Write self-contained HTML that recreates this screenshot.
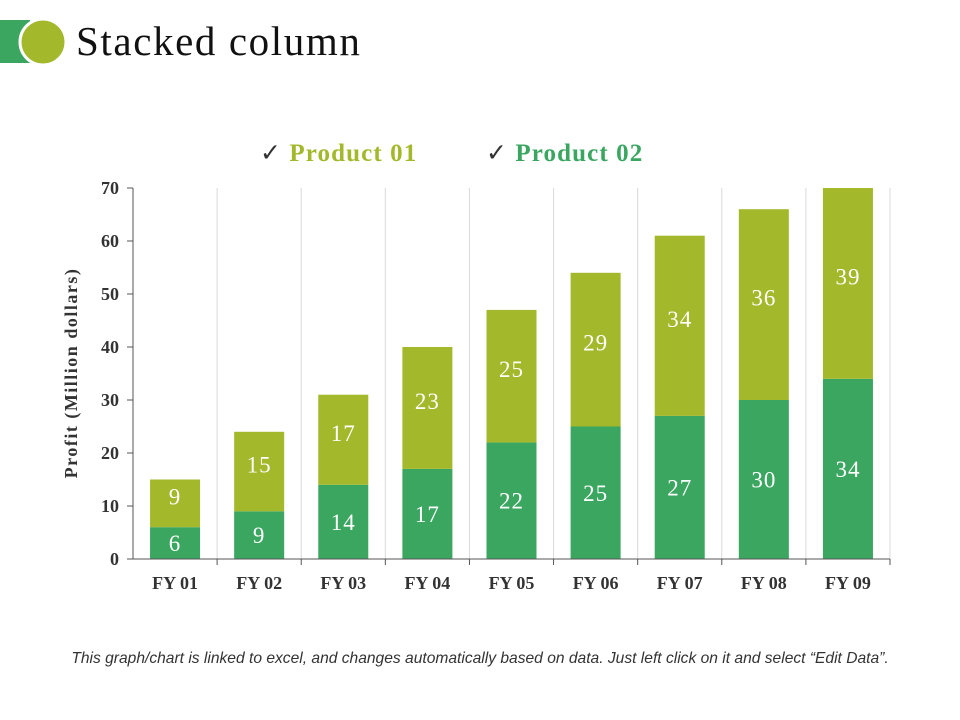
<!DOCTYPE html>
<html><head><meta charset="utf-8"><style>
body{margin:0;background:#fff;width:960px;height:720px;overflow:hidden;position:relative}
svg{position:absolute;left:0;top:0}
</style></head><body>
<svg width="960" height="720">
  <defs><clipPath id="plotclip"><rect x="0" y="188" width="960" height="400"/></clipPath></defs>
  <rect x="0" y="20" width="30" height="43" fill="#3aa660"/>
  <circle cx="43" cy="42" r="23" fill="#a3b82a" stroke="#fff" stroke-width="3"/>
  <text x="76" y="55" font-family="Liberation Serif, serif" font-size="41" letter-spacing="1.6" fill="#111">Stacked column</text>
  <g>
    <text x="260" y="161" font-family="Liberation Serif, serif" font-size="25" font-weight="bold" letter-spacing="1.1" fill="#a3b82a"><tspan fill="#333" font-weight="normal">✓ </tspan>Product 01</text>
    <text x="486" y="161" font-family="Liberation Serif, serif" font-size="25" font-weight="bold" letter-spacing="1.1" fill="#3aa660"><tspan fill="#333" font-weight="normal">✓ </tspan>Product 02</text>
  </g>
  <text transform="translate(77,373) rotate(-90)" text-anchor="middle" font-family="Liberation Serif, serif" font-size="18" font-weight="bold" letter-spacing="1.5" fill="#333">Profit  (Million dollars)</text>
  <g id="grid"></g><g id="bars" clip-path="url(#plotclip)"></g><g id="axes"></g>
  <text x="480" y="663" text-anchor="middle" font-family="Liberation Sans, sans-serif" font-size="15.6" font-style="italic" fill="#333">This graph/chart is linked to excel, and changes automatically based on data. Just left click on it and select “Edit Data”.</text>
</svg>
<script>
const categories=["FY 01","FY 02","FY 03","FY 04","FY 05","FY 06","FY 07","FY 08","FY 09"];
const product02=[6,9,14,17,22,25,27,30,34];
const product01=[9,15,17,23,25,29,34,36,39];
const yTicks=[0,10,20,30,40,50,60,70];
const NS="http://www.w3.org/2000/svg";
const x0=133,x1=890,y0=559,yTop=188,yMax=70;
const band=(x1-x0)/categories.length;
const y=v=>y0-(v/yMax)*(y0-yTop);
const yc=v=>Math.max(y(v),yTop);
const xc=i=>x0+band*(i+0.5);
function mk(tag,attrs,parent,txt){const e=document.createElementNS(NS,tag);for(const k in attrs)e.setAttribute(k,attrs[k]);if(txt!==undefined)e.textContent=txt;document.getElementById(parent).appendChild(e);return e;}
const serif="Liberation Serif, serif";
for(let i=1;i<=categories.length;i++){
  const gx=x0+band*i;
  const g=mk('line',{x1:gx,x2:gx,y1:yTop,y2:y0,stroke:'#d9d9d9','stroke-width':1},'grid');
  
  
  const t=mk('line',{x1:gx,x2:gx,y1:y0,y2:y0+6,stroke:'#555'},'axes');
  
  
}
const bw=50;
categories.forEach((c,i)=>{
  const a=product02[i],b=product01[i];
  const r1=mk('rect',{x:xc(i)-bw/2,y:y(a),width:bw,height:y0-y(a),fill:'#3aa660'},'bars');
  
  
  const r2=mk('rect',{x:xc(i)-bw/2,y:y(a+b),width:bw,height:y(a)-y(a+b),fill:'#a3b82a'},'bars');
  
  
  const l1=mk('text',{x:xc(i),y:(y(a)+y0)/2+8,'text-anchor':'middle','font-family':serif,'font-size':23,'letter-spacing':1,fill:'#fff'},'bars',a);
  
  
  const l2=mk('text',{x:xc(i),y:(y(a)+yc(a+b))/2+1,'text-anchor':'middle','font-family':serif,'font-size':23,'letter-spacing':1,fill:'#fff'},'bars',b);
  
  
  const xl=mk('text',{x:xc(i),y:589,'text-anchor':'middle','font-family':serif,'font-size':18,'font-weight':'bold',fill:'#333'},'axes',c);
  
  
});
yTicks.forEach(v=>{
  const t=mk('line',{x1:x0-6,x2:x0,y1:y(v),y2:y(v),stroke:'#555'},'axes');
  
  
  const l=mk('text',{x:x0-14,y:y(v)+6,'text-anchor':'end','font-family':serif,'font-size':18,'font-weight':'bold',fill:'#333'},'axes',v);
  
  
});
const ya=mk('line',{x1:x0,x2:x0,y1:yTop,y2:y0,stroke:'#555'},'axes');


const xa=mk('line',{x1:x0,x2:x1,y1:y0,y2:y0,stroke:'#555'},'axes');


</script>
</body></html>
